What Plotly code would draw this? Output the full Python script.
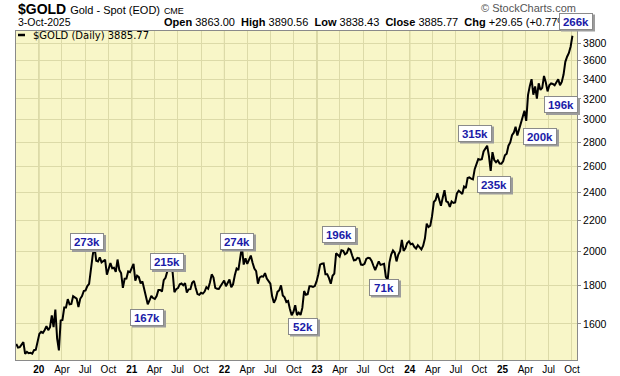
import plotly.graph_objects as go
import pandas as pd
import math

# ---------------- data (weekly closes) ----------------
gold_2019 = [1505, 1488, 1490, 1505, 1513, 1459, 1468, 1462, 1464, 1460, 1476, 1478, 1511]
gold_2020 = [1552, 1562, 1557, 1571, 1589, 1570, 1584, 1643, 1585, 1673, 1530, 1475, 1617,
             1620, 1683, 1683, 1727, 1700, 1702, 1743, 1734, 1730, 1685, 1729, 1743, 1771,
             1774, 1798, 1810, 1901, 1975, 2035, 1944, 1940, 1964, 1934, 1940, 1950, 1862,
             1900, 1930, 1899, 1902, 1879, 1951, 1889, 1872, 1788, 1839, 1840, 1881, 1877]
gold_2021 = [1898, 1925, 1828, 1856, 1848, 1813, 1824, 1784, 1734, 1700, 1720, 1745, 1733,
             1728, 1744, 1777, 1777, 1768, 1831, 1844, 1881, 1903, 1891, 1877, 1764, 1781,
             1787, 1808, 1812, 1802, 1814, 1763, 1780, 1781, 1817, 1827, 1787, 1754, 1750,
             1761, 1757, 1768, 1792, 1783, 1818, 1864, 1846, 1788, 1783, 1782, 1798, 1811, 1829]
gold_2022 = [1797, 1818, 1835, 1791, 1808, 1859, 1898, 1889, 1966, 2030, 1921, 1958, 1925,
             1946, 1975, 1932, 1897, 1883, 1811, 1846, 1853, 1851, 1871, 1840, 1827, 1811,
             1742, 1708, 1727, 1766, 1775, 1802, 1747, 1737, 1712, 1717, 1675, 1644, 1661,
             1695, 1644, 1657, 1645, 1681, 1771, 1751, 1754, 1797, 1797, 1793, 1798, 1824]
gold_2023 = [1865, 1920, 1926, 1928, 1865, 1865, 1842, 1811, 1856, 1868, 1989, 1978, 1969,
             2008, 2004, 1983, 1990, 2017, 2011, 1977, 1946, 1948, 1961, 1958, 1921, 1919,
             1925, 1955, 1962, 1959, 1943, 1914, 1889, 1915, 1940, 1919, 1924, 1925, 1849,
             1833, 1933, 1981, 2006, 1992, 1940, 1981, 2002, 2072, 2004, 2019, 2053, 2063]
gold_2024 = [2045, 2049, 2029, 2018, 2039, 2024, 2013, 2036, 2083, 2179, 2156, 2165, 2230,
             2329, 2344, 2392, 2338, 2302, 2360, 2415, 2334, 2327, 2294, 2333, 2322, 2326,
             2392, 2411, 2400, 2387, 2443, 2431, 2507, 2512, 2503, 2497, 2577, 2621, 2658,
             2653, 2657, 2721, 2747, 2770, 2685, 2563, 2715, 2650, 2633, 2648, 2622, 2621]
gold_2025 = [2640, 2690, 2703, 2770, 2798, 2861, 2883, 2936, 2858, 2910, 2984, 3023, 3085,
             2990, 3237, 3327, 3400, 3241, 3325, 3201, 3357, 3289, 3310, 3433, 3368, 3274,
             3337, 3355, 3350, 3336, 3363, 3398, 3336, 3371, 3448, 3586, 3643, 3685, 3760, 3886]
chunk_starts = ["2019-10-04", "2020-01-03", "2021-01-01", "2022-01-07",
                "2023-01-06", "2024-01-05", "2025-01-03"]
chunks = [gold_2019, gold_2020, gold_2021, gold_2022, gold_2023, gold_2024, gold_2025]

y_ticks = [1600, 1800, 2000, 2200, 2400, 2600, 2800, 3000, 3200, 3400, 3600, 3800]
month_labels = {1: None, 4: "Apr", 7: "Jul", 10: "Oct"}
vol_labels = ["273k", "215k", "167k", "274k", "52k", "196k", "71k",
              "315k", "235k", "200k", "196k", "266k"]

title_sym = "$GOLD"
title_name = "Gold - Spot (EOD)"
title_exch = "CME"
date_text = "3-Oct-2025"
ohlc_labels = ["Open", "High", "Low", "Close", "Chg"]
ohlc_values = ["3863.00", "3890.56", "3838.43", "3885.77", "+29.65 (+0.77%)"]
legend_text = "$GOLD (Daily) 3885.77"

# ---------------- build series ----------------
dates, values = [], []
for s, vals in zip(chunk_starts, chunks):
    dates += list(pd.date_range(s, periods=len(vals), freq="7D"))
    values += vals

# ---------------- layout geometry ----------------
W, H = 620, 376
PL, PR, PT, PB = 16, 577, 31, 360
PW, PH = PR - PL, PB - PT

def px(x):
    return (x - PL) / PW

def py(y):
    return (PB - y) / PH

BG = "#F8F6C8"
GRID = "#DCDAA8"
YEARGRID = "#B9B67C"

fig = go.Figure()
fig.add_trace(go.Scatter(x=dates, y=values, mode="lines",
                         line=dict(color="black", width=2), hoverinfo="skip"))

tick_dates = list(pd.date_range("2020-01-01", "2025-10-01", freq="QS"))
tick_text = []
for d in tick_dates:
    if d.month == 1:
        tick_text.append("<b>%02d</b>" % (d.year % 100))
    else:
        tick_text.append(month_labels[d.month])

shapes = []
# year gridlines
for d in tick_dates:
    if d.month == 1:
        shapes.append(dict(type="line", xref="x", yref="paper", x0=d, x1=d, y0=0, y1=1,
                           line=dict(color=YEARGRID, width=1), layer="below"))

annotations = []
# header
annotations.append(dict(xref="paper", yref="paper", x=px(16), y=py(9), xanchor="left", yanchor="middle",
                        showarrow=False,
                        text="<b>%s</b> <span style='font-size:11px'>%s</span> <span style='font-size:9px'>%s</span>"
                             % (title_sym, title_name, title_exch),
                        font=dict(family="Arial, Liberation Sans", size=14, color="black")))
annotations.append(dict(xref="paper", yref="paper", x=px(16), y=py(22.5), xanchor="left", yanchor="middle",
                        showarrow=False, text=date_text,
                        font=dict(family="Arial, Liberation Sans", size=10.5, color="black")))
ohlc = "  ".join("<b>%s</b> %s" % (l, v) for l, v in zip(ohlc_labels, ohlc_values))
annotations.append(dict(xref="paper", yref="paper", x=px(162), y=py(22.5), xanchor="left", yanchor="middle",
                        showarrow=False, text=ohlc,
                        font=dict(family="Arial, Liberation Sans", size=11, color="black")))
annotations.append(dict(xref="paper", yref="paper", x=px(578), y=py(8), xanchor="right", yanchor="middle",
                        showarrow=False, text="\u00a9 StockCharts.com",
                        font=dict(family="Arial, Liberation Sans", size=11, color="#555555")))
# legend
shapes.append(dict(type="line", xref="paper", yref="paper", x0=px(18), x1=px(25), y0=py(35), y1=py(35),
                   line=dict(color="black", width=2.5)))
annotations.append(dict(xref="paper", yref="paper", x=px(31), y=py(35), xanchor="left", yanchor="middle",
                        showarrow=False, text=legend_text,
                        font=dict(family="DejaVu Sans", size=10, color="black")))

# volume boxes: centers in pixels
box_pos = [(87, 241.5), (167, 261.5), (147, 317), (237, 241), (303, 326), (339, 234.5),
           (384, 287), (475, 133), (494, 184), (540, 136), (561, 104.5), (576, 21)]
for lab, (cx, cy) in zip(vol_labels, box_pos):
    bw = 34 if len(lab) == 4 else 30
    bh = 17
    shapes.append(dict(type="rect", xref="paper", yref="paper",
                       x0=px(cx - bw / 2 + 2), x1=px(cx + bw / 2 + 2),
                       y0=py(cy + bh / 2 + 2), y1=py(cy - bh / 2 + 2),
                       fillcolor="#9c9c9c", line=dict(width=0), layer="above"))
    annotations.append(dict(xref="paper", yref="paper", x=px(cx), y=py(cy), xanchor="center",
                            yanchor="middle", showarrow=False, text="<b>%s</b>" % lab,
                            width=bw - 2, height=bh - 2, borderpad=0, borderwidth=1,
                            bgcolor="white", bordercolor="#8a8a8a",
                            font=dict(family="Arial, Liberation Sans", size=11.5, color="#1a1aa8")))

fig.update_layout(
    width=W, height=H,
    margin=dict(l=PL, r=W - PR, t=PT, b=H - PB, pad=0, autoexpand=False),
    paper_bgcolor="white", plot_bgcolor=BG,
    showlegend=False,
    shapes=shapes, annotations=annotations,
    xaxis=dict(range=["2019-10-03", "2025-10-21"], tickvals=tick_dates, ticktext=tick_text,
               automargin=False,
               showgrid=True, gridcolor=GRID, gridwidth=1, ticks="", zeroline=False,
               showline=True, linecolor="#8a8a8a", mirror=True,
               tickfont=dict(family="Arial, Liberation Sans", size=10, color="black")),
    yaxis=dict(type="log", range=[math.log10(1432), math.log10(3943)], side="right",
               automargin=False,
               tickvals=y_ticks, ticktext=[str(v) for v in y_ticks],
               showgrid=True, gridcolor=GRID, gridwidth=1, ticks="outside", ticklen=3,
               tickcolor="#8a8a8a", zeroline=False,
               showline=True, linecolor="#8a8a8a", mirror=True,
               tickfont=dict(family="Arial, Liberation Sans", size=10.5, color="black")),
)

fig.write_html("out.html", config={"displayModeBar": False, "staticPlot": True},
               post_script="document.body.style.margin='0';document.body.style.padding='0';")
